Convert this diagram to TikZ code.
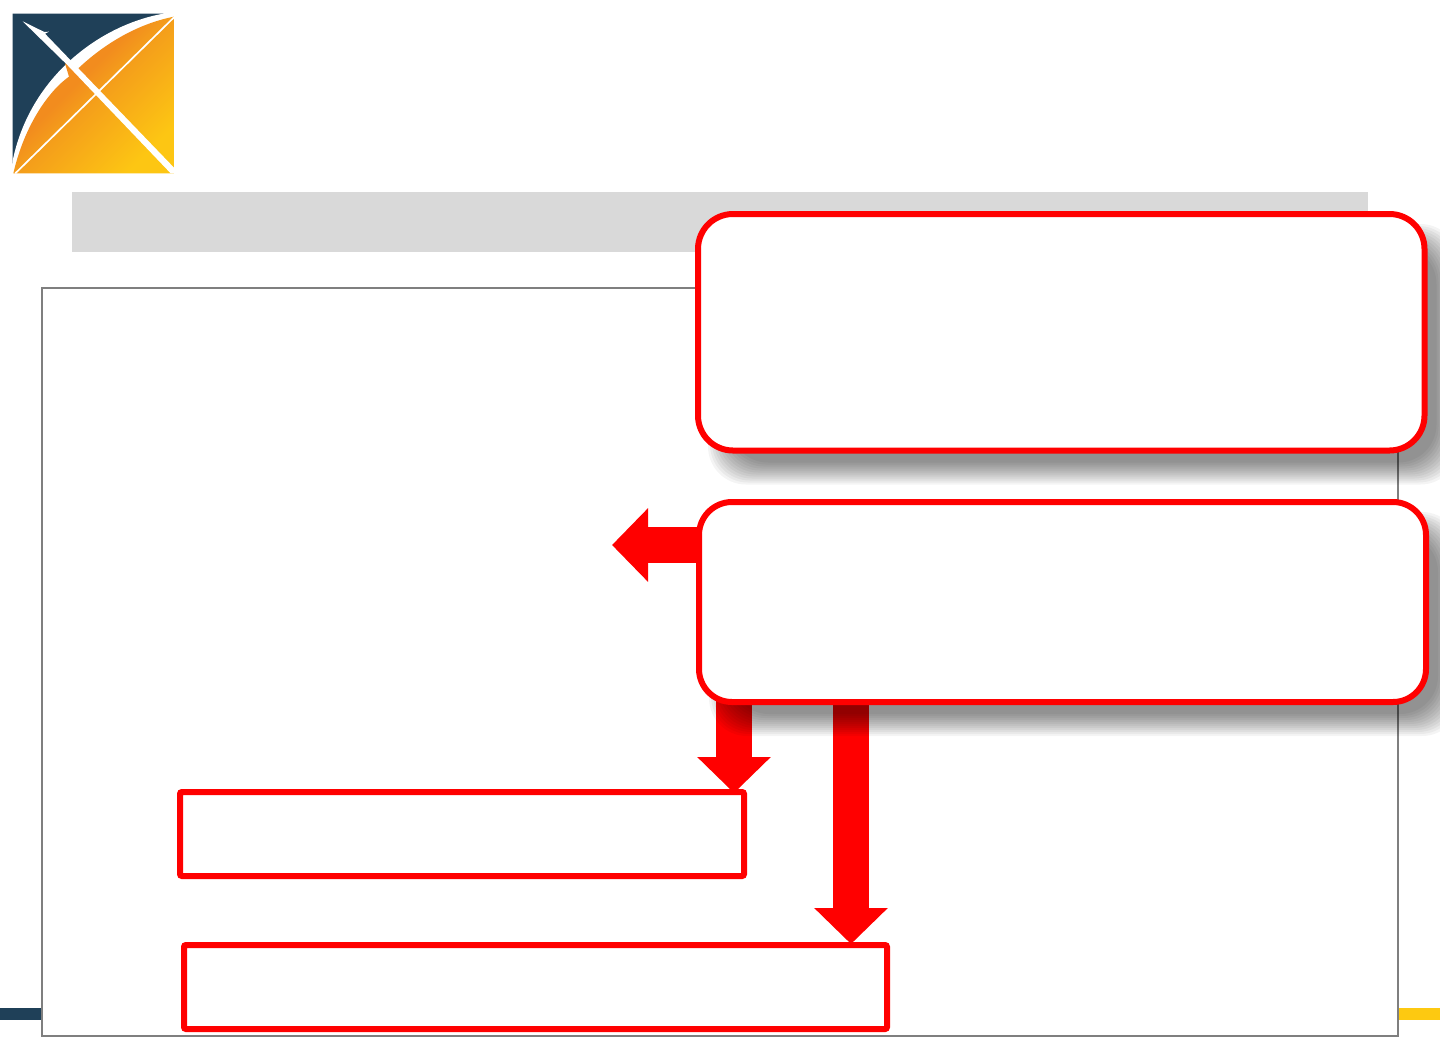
\documentclass[tikz,border=0pt]{standalone}
\usetikzlibrary{arrows.meta,calc}
\definecolor{navy}{HTML}{1F4058}
\definecolor{barYellow}{HTML}{FDC911}
\definecolor{orangeA}{HTML}{F28C1E}
\definecolor{orangeM}{HTML}{F49C1B}
\definecolor{orangeB}{HTML}{FDC613}
\definecolor{bandGray}{HTML}{D9D9D9}
\definecolor{frameGray}{HTML}{7F7F7F}
\pgfdeclarehorizontalshading{logoshade}{100bp}{color(0bp)=(orangeA);color(44bp)=(orangeA);color(50bp)=(orangeM);color(75bp)=(orangeB);color(100bp)=(orangeB)}
\tikzset{
  redbox/.style={draw=red,line width=6pt,fill=white,rounded corners=2pt,inner sep=0pt,outer sep=0pt,anchor=north west},
  callout/.style={draw=red,line width=6pt,fill=white,rounded corners=35pt,inner sep=0pt,outer sep=0pt,anchor=north west},
  blockarrow/.style={red,line width=36.5pt,-{Triangle[length=36pt,width=71.5pt,sep=0pt]}},
}
\newcommand{\softshadow}[4]{%
  \foreach \g in {0,...,11}{
    \fill[black,opacity=0.0417,rounded corners=38pt]
      ({#1+22-12+\g*2},{#2+22-12+\g*2}) rectangle ({#3+22+12-\g*2},{#4+22+12-\g*2});
  }}
\begin{document}
\begin{tikzpicture}[x=1pt,y=-1pt]
\useasboundingbox (0,0) rectangle (1440,1037);
\fill[white] (0,0) rectangle (1440,1037);
% logo
\begin{scope}[x=0.33333pt,y=-0.33333pt]
  \fill[navy] (38,41) -- (490,41) -- (490,50) -- (38,490) -- cycle;
  \fill[white] (490,41) .. controls (300,75) and (90,230) .. (38,482) -- (38,522) -- (300,400) -- (524,50) -- cycle;
  \begin{scope}
    \clip (40,520) .. controls (75,370) and (150,270) .. (207,230) -- (195,190) -- (235,205) .. controls (320,125) and (420,70) .. (522,50) -- (522,520) -- cycle;
    \shade[shading=logoshade,shading angle=-45]
      (38,41) rectangle (522,520);
  \end{scope}
  \draw[white,line width=1.7pt] (46,520) -- (522,52);
  \fill[white] (68,64) -- (133,96) -- (147,95) -- (135,101) -- (524,505) -- (524,520) -- (512,520) -- (200,193) -- cycle;
\end{scope}
% top band and frame
\fill[bandGray] (72,192) rectangle (1368,252);
\fill[navy] (0,1008) rectangle (41,1020);
\fill[barYellow] (1399,1008) rectangle (1440,1020);
\node[draw=frameGray,line width=2pt,fill=white,minimum width=1356pt,minimum height=748pt,inner sep=0pt,outer sep=0pt,anchor=north west] (frame) at (42,288) {};
% arrows: free ends at named coordinates
\coordinate (tipL) at (612,545);
\coordinate (tipA) at (734,793);
\coordinate (tipB) at (851,944);
\coordinate (startL) at (700,545);
\coordinate (startA) at (734,695);
\coordinate (startB) at (851,695);
\draw[blockarrow] (startL) -- (tipL);
\draw[blockarrow] (startA) -- (tipA);
\draw[blockarrow] (startB) -- (tipB);
\node[redbox,minimum width=564pt,minimum height=84pt] (lowA) at (180,792) {};
\node[redbox,minimum width=703pt,minimum height=84pt] (lowB) at (184,945) {};
% shadows
\softshadow{698}{214}{1424.5}{450.5}
\softshadow{699}{502}{1426}{702}
% callouts
\node[callout,minimum width=726.5pt,minimum height=236.5pt] (boxA) at (698,214) {};
\node[callout,rounded corners=33pt,minimum width=727pt,minimum height=200pt] (boxB) at (699,502) {};
\end{tikzpicture}
\end{document}
